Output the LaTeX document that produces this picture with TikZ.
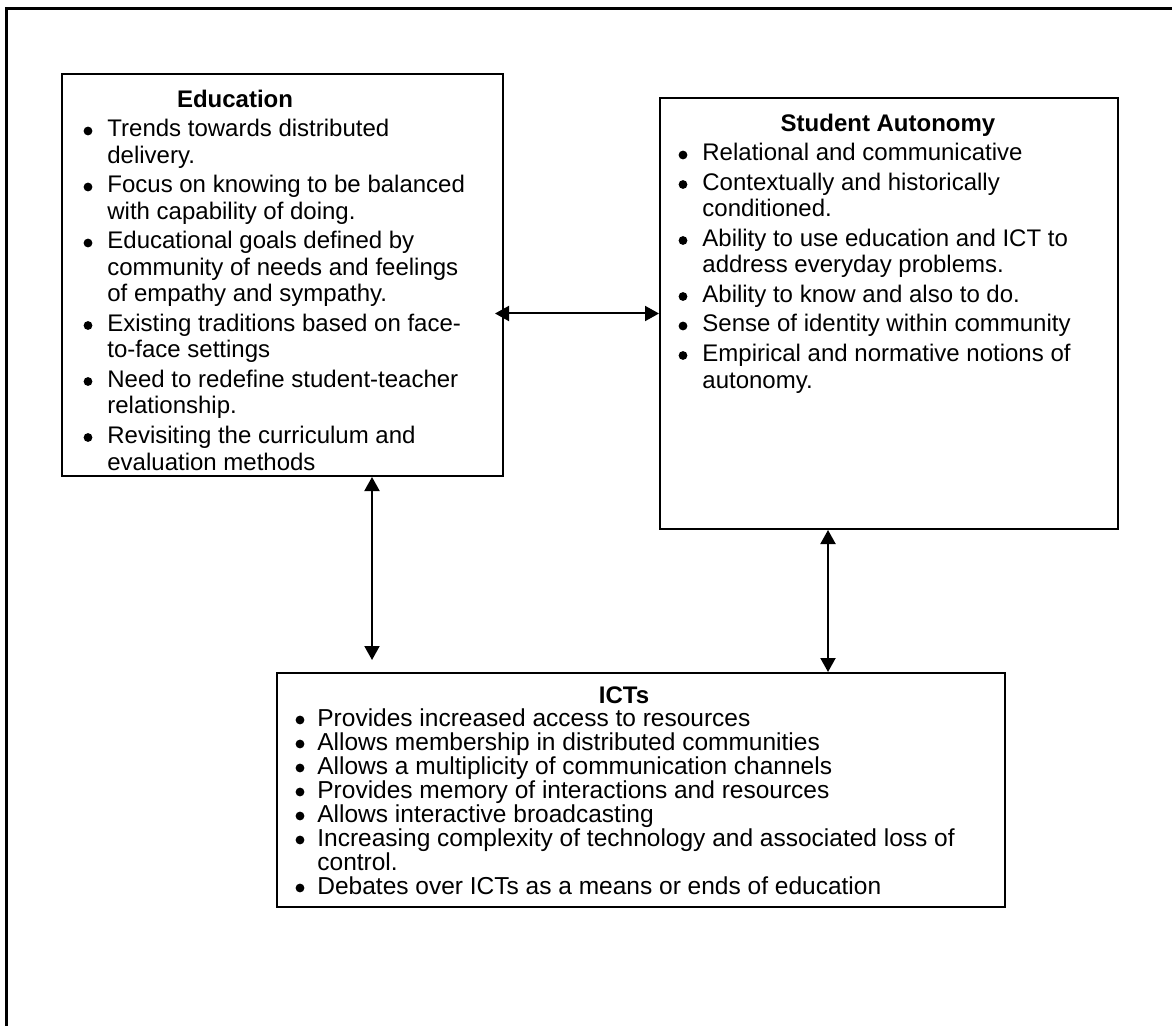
\documentclass[tikz,border=0pt]{standalone}
\usepackage{fontspec}
\setmainfont{Liberation Sans}
\usetikzlibrary{arrows.meta,calc}

\tikzset{
  box/.style={draw=black, line width=1pt, anchor=north west, inner sep=0pt},
  head/.style={anchor=base, font=\bfseries\fontsize{12}{14}\selectfont, inner sep=0pt},
  line/.style={anchor=base west, font=\fontsize{12}{14}\selectfont, inner sep=0pt},
  bul/.style={circle, fill=black, inner sep=0pt, minimum size=4.4pt},
  dbl/.style={{Triangle[length=7pt,width=7.5pt]}-{Triangle[length=7pt,width=7.5pt]}, line width=1pt},
}

\begin{document}
\begin{tikzpicture}[x=0.5pt, y=-0.5pt]
\useasboundingbox (0,0) rectangle (1172,1026);
% frame
\draw[line width=1.3pt] (6.5,1026) -- (6.5,8.5) -- (1172,8.5);

% boxes
\node[box, minimum width=220.5pt, minimum height=201pt] (edu) at (61,73) {};
\node[box, minimum width=229pt, minimum height=215.5pt] (aut) at (659,97) {};
\node[box, minimum width=364pt, minimum height=117pt] (ict) at (276,672) {};

% headings
\node[head] (edut) at (235,108) {Education};
\node[head] (autt) at (888,132) {Student Autonomy};
\node[head] (ictt) at (624,703) {ICTs};

% Education
\foreach \y [count=\i] in {130,186,242,324.5,380.5,436.5}
  \node[bul] (edub\i) at (88,\y+1) {};
\foreach \y/\t [count=\i] in {130/Trends towards distributed, 156.5/delivery.,
  186/Focus on knowing to be balanced, 212.5/with capability of doing.,
  242/Educational goals defined by, 268.5/community of needs and feelings,
  295/of empathy and sympathy., 324.5/Existing traditions based on face-,
  351/to-face settings, 380.5/Need to redefine student-teacher,
  407/relationship., 436.5/Revisiting the curriculum and, 463/evaluation methods}
  \node[line] (edul\i) at (107,\y+7) {\t};

% Student Autonomy
\foreach \y [count=\i] in {154,183.5,239.5,295.5,325,354.5}
  \node[bul] (autb\i) at (683,\y+1) {};
\foreach \y/\t [count=\i] in {154/Relational and communicative,
  183.5/Contextually and historically, 210/conditioned.,
  239.5/Ability to use education and ICT to, 266/address everyday problems.,
  295.5/Ability to know and also to do., 325/Sense of identity within community,
  354.5/Empirical and normative notions of, 381/autonomy.}
  \node[line] (autl\i) at (702,\y+7) {\t};

% ICTs
\foreach \y [count=\i] in {719,743,767,791,815,839,887}
  \node[bul] (ictb\i) at (300,\y+1) {};
\foreach \y/\t [count=\i] in {719/Provides increased access to resources,
  743/Allows membership in distributed communities,
  767/Allows a multiplicity of communication channels,
  791/Provides memory of interactions and resources,
  815/Allows interactive broadcasting,
  839/Increasing complexity of technology and associated loss of,
  863/control., 887/Debates over ICTs as a means or ends of education}
  \node[line, font=\fontsize{12.25}{14}\selectfont] (ictl\i) at (317,\y+7) {\t};

% arrows
\draw[dbl, shorten <=-4.5pt] (aut.west -| edu.east) -- (aut.west);
\draw[dbl] ([xshift=155.5pt]edu.south west) -- ([xshift=48pt, yshift=6pt]ict.north west);
\draw[dbl] ([xshift=84.5pt]aut.south west) -- ([xshift=276pt]ict.north west);
\end{tikzpicture}
\end{document}
